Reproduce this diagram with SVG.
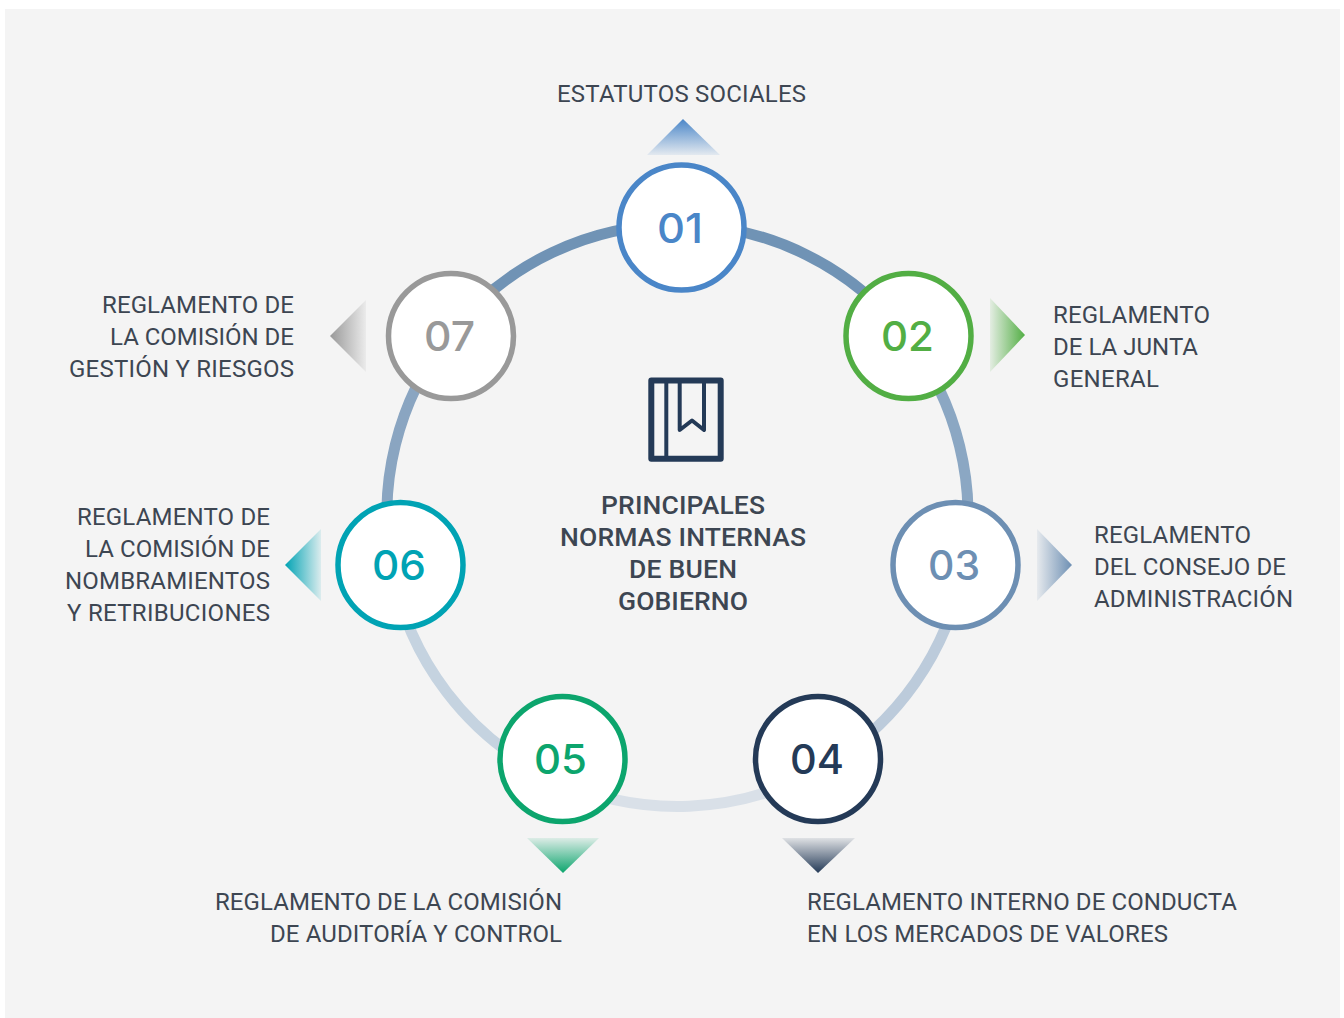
<svg xmlns="http://www.w3.org/2000/svg" width="1344" height="1018" viewBox="0 0 1344 1018">
<defs>
<style>
.lbl{font-family:Roboto,"Liberation Sans",sans-serif;font-size:24px;fill:#3d4652}
.ttl{font-family:Roboto,"Liberation Sans",sans-serif;font-size:26.500px;font-weight:500;fill:#3d4652;text-anchor:middle}
.num{font-family:Inter,"Noto Sans",sans-serif;font-size:41px;font-weight:500;text-anchor:middle}
.end{text-anchor:end}
.dot{fill:#fff;stroke-width:5.500}
.arc{fill:none;stroke-width:11}
</style>
<linearGradient id="g1" x1="0" y1="1" x2="0" y2="0"><stop offset="0" stop-color="#4a86c8" stop-opacity="0.100"/><stop offset="1" stop-color="#4a86c8"/></linearGradient>
<linearGradient id="g2" x1="0" y1="0" x2="1" y2="0"><stop offset="0" stop-color="#52ae44" stop-opacity="0.100"/><stop offset="1" stop-color="#52ae44"/></linearGradient>
<linearGradient id="g3" x1="0" y1="0" x2="1" y2="0"><stop offset="0" stop-color="#6d8fb3" stop-opacity="0.100"/><stop offset="1" stop-color="#6d8fb3"/></linearGradient>
<linearGradient id="g4" x1="0" y1="0" x2="0" y2="1"><stop offset="0" stop-color="#243a57" stop-opacity="0.100"/><stop offset="1" stop-color="#243a57"/></linearGradient>
<linearGradient id="g5" x1="0" y1="0" x2="0" y2="1"><stop offset="0" stop-color="#0ca56d" stop-opacity="0.100"/><stop offset="1" stop-color="#0ca56d"/></linearGradient>
<linearGradient id="g6" x1="1" y1="0" x2="0" y2="0"><stop offset="0" stop-color="#00a3b4" stop-opacity="0.100"/><stop offset="1" stop-color="#00a3b4"/></linearGradient>
<linearGradient id="g7" x1="1" y1="0" x2="0" y2="0"><stop offset="0" stop-color="#999" stop-opacity="0.100"/><stop offset="1" stop-color="#999"/></linearGradient>
</defs>
<rect width="1344" height="1018" fill="#fff"/>
<rect x="5" y="9" width="1335" height="1009" fill="#f4f4f4"/>
<g id="connectors">
<path class="arc" stroke="#7093b5" d="M681 224.500A291 291 0 0 1 907 337.200"/>
<path class="arc" stroke="#8ba7c3" d="M907 337.200A291 291 0 0 1 963.400 567"/>
<path class="arc" stroke="#bccbdb" d="M963.400 567A291 291 0 0 1 822.600 767.500"/>
<path class="arc" stroke="#d9e0e8" d="M822.600 767.500A291 291 0 0 1 553 778.500"/>
<path class="arc" stroke="#c5d3e0" d="M553 778.500A291 291 0 0 1 391.700 567"/>
<path class="arc" stroke="#8aa5c1" d="M391.700 567A291 291 0 0 1 448.900 334.800"/>
<path class="arc" stroke="#7093b5" d="M448.900 334.800A291 291 0 0 1 681 224.500"/>
</g>
<g id="center">
<g fill="none" stroke="#243a57" stroke-width="6" stroke-linejoin="round">
<rect x="651.300" y="380.500" width="69.400" height="78.200"/>
<path d="M666.300 380.500V458.700" stroke-width="4"/>
<path d="M679.700 381V430L692 420.500L704 430V381" stroke-width="4"/>
</g>
<text class="ttl" x="683" y="514" textLength="164">PRINCIPALES</text>
<text class="ttl" x="683" y="546" textLength="246">NORMAS INTERNAS</text>
<text class="ttl" x="683" y="578" textLength="108">DE BUEN</text>
<text class="ttl" x="683" y="610" textLength="130">GOBIERNO</text>
</g>
<g id="n1">
<polygon points="683,119 720,155 647,155" fill="url(#g1)"/>
<circle class="dot" cx="681.500" cy="227.500" r="62.500" stroke="#4a86c8"/>
<text class="num" x="680" y="243" fill="#4a86c8" textLength="46" lengthAdjust="spacingAndGlyphs">01</text>
<text class="lbl" x="557" y="102" textLength="249">ESTATUTOS SOCIALES</text>
</g>
<g id="n2">
<polygon points="1025,335 990,298 990,372" fill="url(#g2)"/>
<circle class="dot" cx="908.500" cy="336" r="62.500" stroke="#52ae44"/>
<text class="num" x="907.500" y="351" fill="#52ae44" textLength="53" lengthAdjust="spacingAndGlyphs">02</text>
<text class="lbl" x="1053" y="323" textLength="157">REGLAMENTO</text>
<text class="lbl" x="1053" y="355" textLength="145">DE LA JUNTA</text>
<text class="lbl" x="1053" y="387" textLength="106">GENERAL</text>
</g>
<g id="n3">
<polygon points="1072,565 1037,529 1037,601" fill="url(#g3)"/>
<circle class="dot" cx="955.500" cy="565" r="62.500" stroke="#6d8fb3"/>
<text class="num" x="954" y="580" fill="#6d8fb3" textLength="52" lengthAdjust="spacingAndGlyphs">03</text>
<text class="lbl" x="1094" y="543" textLength="157">REGLAMENTO</text>
<text class="lbl" x="1094" y="575" textLength="192">DEL CONSEJO DE</text>
<text class="lbl" x="1094" y="607" textLength="199">ADMINISTRACIÓN</text>
</g>
<g id="n4">
<polygon points="818,873 782,838 855,838" fill="url(#g4)"/>
<circle class="dot" cx="818" cy="759" r="62.500" stroke="#243a57"/>
<text class="num" x="817" y="774" fill="#243a57" textLength="54" lengthAdjust="spacingAndGlyphs">04</text>
<text class="lbl" x="807" y="910" textLength="430">REGLAMENTO INTERNO DE CONDUCTA</text>
<text class="lbl" x="807" y="942" textLength="361">EN LOS MERCADOS DE VALORES</text>
</g>
<g id="n5">
<polygon points="563,873 527,838 599,838" fill="url(#g5)"/>
<circle class="dot" cx="562.500" cy="759" r="62.500" stroke="#0ca56d"/>
<text class="num" x="560.500" y="774" fill="#0ca56d" textLength="53" lengthAdjust="spacingAndGlyphs">05</text>
<text class="lbl end" x="562" y="910" textLength="347">REGLAMENTO DE LA COMISIÓN</text>
<text class="lbl end" x="562" y="942" textLength="292">DE AUDITORÍA Y CONTROL</text>
</g>
<g id="n6">
<polygon points="285,565 321,529 321,601" fill="url(#g6)"/>
<circle class="dot" cx="400.500" cy="565" r="62.500" stroke="#00a3b4"/>
<text class="num" x="399" y="580" fill="#00a3b4" textLength="54" lengthAdjust="spacingAndGlyphs">06</text>
<text class="lbl end" x="270" y="525" textLength="193">REGLAMENTO DE</text>
<text class="lbl end" x="270" y="557" textLength="185">LA COMISIÓN DE</text>
<text class="lbl end" x="270" y="589" textLength="205">NOMBRAMIENTOS</text>
<text class="lbl end" x="270" y="621" textLength="203">Y RETRIBUCIONES</text>
</g>
<g id="n7">
<polygon points="330,336 366,300 366,372" fill="url(#g7)"/>
<circle class="dot" cx="451" cy="336" r="62.500" stroke="#999"/>
<text class="num" x="449.500" y="351" fill="#999" textLength="51" lengthAdjust="spacingAndGlyphs">07</text>
<text class="lbl end" x="294" y="313" textLength="192">REGLAMENTO DE</text>
<text class="lbl end" x="294" y="345" textLength="184">LA COMISIÓN DE</text>
<text class="lbl end" x="294" y="377" textLength="225">GESTIÓN Y RIESGOS</text>
</g>
</svg>
